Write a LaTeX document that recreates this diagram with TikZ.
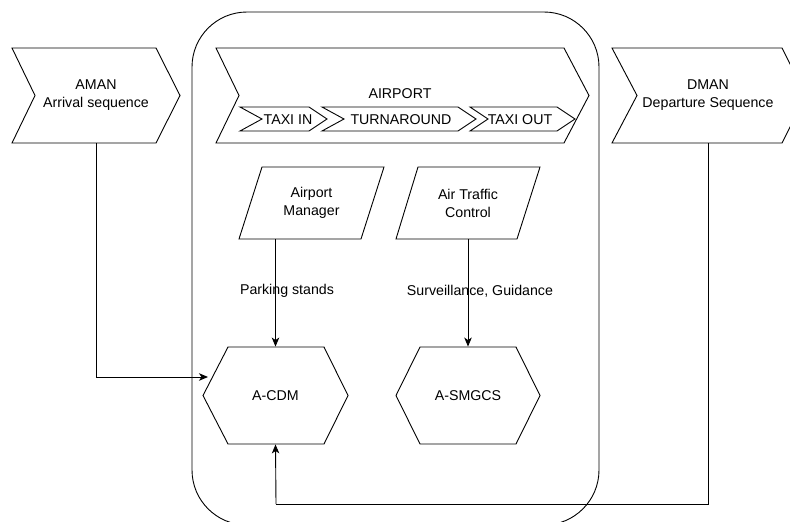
\documentclass[tikz,border=0pt]{standalone}
\usepackage{fontspec}
\setmainfont{Liberation Sans}
\usetikzlibrary{arrows.meta,calc}
\begin{document}
\begin{tikzpicture}[x=1pt,y=-1pt,line width=0.9pt,line join=miter,
  txt/.style={draw=none,inner sep=0pt,align=center,font=\fontsize{14.2}{18}\selectfont},
  shp/.style={draw=black,line width=0.9pt},
  conn/.style={draw=black,line width=0.9pt,-{Stealth[length=9pt,width=7.5pt,inset=2.5pt]}},
  plain/.style={draw=black,line width=0.9pt}]
\useasboundingbox (0,0) rectangle (790,522);
\fill[white] (0,0) rectangle (790,522);

% container
\draw[shp,rounded corners=55pt] (192,12) rectangle (599,525);

% AMAN
\draw[shp] (12,48) -- (156,48) -- (180,95.5) -- (156,143) -- (12,143) -- (35,95.5) -- cycle;
\node[txt,minimum width=168,minimum height=95] (aman) at (96,95.5) {AMAN\\Arrival sequence};

% AIRPORT
\draw[shp] (216,48) -- (564,48) -- (589,95.5) -- (564,143) -- (216,143) -- (239,95.5) -- cycle;
\node[txt] (airport) at (400,94) {AIRPORT};

% inner steps
\draw[shp] (240,107) -- (309,107) -- (327,119) -- (309,131) -- (240,131) -- (262,119) -- cycle;
\node[txt] (taxiin) at (288,119.5) {TAXI IN};
\draw[shp] (322,107) -- (458,107) -- (476,119) -- (458,131) -- (322,131) -- (344,119) -- cycle;
\node[txt] (turn) at (401,119.5) {TURNAROUND};
\draw[shp] (470,107) -- (557,107) -- (575,119) -- (557,131) -- (470,131) -- (488,119) -- cycle;
\node[txt] (taxiout) at (520,119.5) {TAXI OUT};

% DMAN
\draw[shp] (612,48) -- (782,48) -- (806,95.5) -- (782,143) -- (612,143) -- (637,95.5) -- cycle;
\node[txt,minimum width=194,minimum height=95] (dman) at (708,95.5) {DMAN\\Departure Sequence};

% parallelograms
\draw[shp] (262,167) -- (384,167) -- (361,239) -- (239,239) -- cycle;
\node[txt,minimum width=145,minimum height=72] (mgr) at (311.5,203) {Airport\\Manager};
\draw[shp] (418,167) -- (540,167) -- (517,239) -- (396,239) -- cycle;
\node[txt,minimum width=144,minimum height=72] (atc) at (468,203) {Air Traffic\\Control};

% hexagons
\draw[shp] (203,395.5) -- (228,347) -- (324,347) -- (348,395.5) -- (324,444) -- (228,444) -- cycle;
\node[txt,minimum width=145,minimum height=97] (acdm) at (275.5,395.5) {A-CDM};
\draw[shp] (396,395.5) -- (420,347) -- (516,347) -- (540,395.5) -- (516,444) -- (420,444) -- cycle;
\node[txt,minimum width=144,minimum height=97] (smgcs) at (468,395.5) {A-SMGCS};

% connectors
\coordinate (acdmL) at (208,377);
\coordinate (bend) at (276,504);
\draw[conn] (aman.south) |- (acdmL);
\draw[conn] (mgr.south -| acdm.north) -- (acdm.north);
\draw[conn] (atc.south) -- (smgcs.north);
\draw[plain] (dman.south) |- (bend);
\draw[conn] (bend) -- (acdm.south);

% edge labels
\node[txt] (lpark) at (287,291) {Parking stands};
\node[txt] (lsurv) at (480,291) {Surveillance, Guidance};
\end{tikzpicture}
\end{document}
